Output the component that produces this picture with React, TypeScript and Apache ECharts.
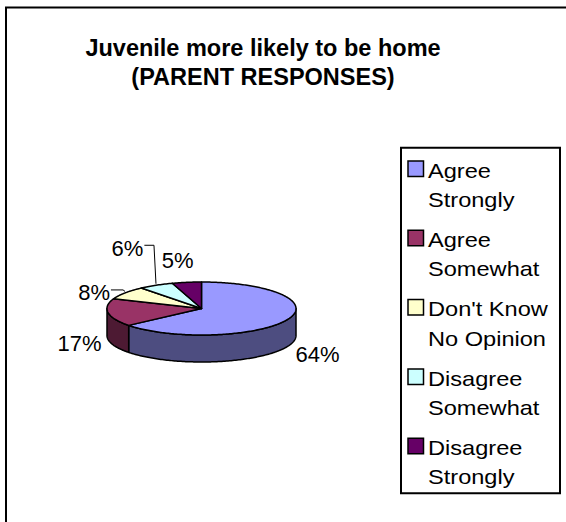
import React, { useEffect, useRef } from "react";
import * as echarts from "echarts";

// ---- data ----
const categories = [
  "Agree Strongly",
  "Agree Somewhat",
  "Don't Know No Opinion",
  "Disagree Somewhat",
  "Disagree Strongly",
];
const values = [64, 17, 8, 6, 5];
const topColors = ["#9999FF", "#993366", "#FFFFCC", "#CCFFFF", "#660066"];
const sideColors = ["#4D4D80", "#4D1A33", "#808066", "#668080", "#330033"];
const titleLines = ["Juvenile more likely to be home", "(PARENT RESPONSES)"];

// ---- layout (not data) ----
const labelOffsets = [
  [30.5, 35],
  [-28.7, 31],
  [-31, 0],
  [-28.5, -37],
  [-9, -22],
];
const labelLeaders = [false, false, true, true, false];

const FONT = '"Liberation Sans", Arial, Helvetica, sans-serif';
const CX = 201.5;
const CY = 308.5;
const RX = 94.5;
const RY = 26.5;
const DEPTH = 27;
const LABEL_SIZE = 22;

function pt(deg: number, dy = 0): number[] {
  const r = (deg * Math.PI) / 180;
  return [CX + RX * Math.sin(r), CY - RY * Math.cos(r) + dy];
}
function arc(a: number, b: number, dy: number): number[][] {
  const pts: number[][] = [];
  const n = Math.max(2, Math.ceil(Math.abs(b - a)));
  for (let i = 0; i <= n; i++) pts.push(pt(a + ((b - a) * i) / n, dy));
  return pts;
}
function wrap2(s: string): string {
  const w = s.split(" ");
  const h = Math.ceil(w.length / 2);
  return w.slice(0, h).join(" ") + "\n" + w.slice(h).join(" ");
}

export default function App() {
  const ref = useRef<HTMLDivElement>(null);
  useEffect(() => {
    if (!ref.current) return;
    const chart = echarts.init(ref.current, undefined, { renderer: "svg" });
    const total = values.reduce((a, b) => a + b, 0);
    const cumStart: number[] = [];
    let acc = 0;
    values.forEach((v) => {
      cumStart.push(acc);
      acc += v;
    });

    const legendEls: any[] = [];
    const L0 = 161;
    const PITCH = 69.3;
    categories.forEach((c, i) => {
      legendEls.push({
        type: "rect",
        shape: { x: 408, y: L0 + i * PITCH, width: 15.5, height: 15.5 },
        style: { fill: topColors[i], stroke: "#000", lineWidth: 1.5 },
      });
      legendEls.push({
        type: "text",
        x: 428,
        y: L0 - 5 + i * PITCH,
        scaleX: 1.18,
        style: {
          text: wrap2(c),
          fontSize: 20,
          fontFamily: FONT,
          fill: "#000",
          align: "left",
          verticalAlign: "top",
          lineHeight: 29.5,
        },
      });
    });

    chart.setOption({
      animation: false,
      backgroundColor: "#fff",
      title: {
        text: titleLines.join("\n"),
        left: 263,
        top: 33,
        textAlign: "center",
        padding: 0,
        textStyle: {
          fontSize: 23.5,
          fontWeight: "bold",
          fontFamily: FONT,
          color: "#000",
          lineHeight: 29,
        },
      },
      graphic: [
        {
          type: "rect",
          shape: { x: 6, y: 7.5, width: 800, height: 800 },
          style: { fill: "none", stroke: "#000", lineWidth: 2 },
        },
        {
          type: "rect",
          shape: { x: 401, y: 147.7, width: 159, height: 345.5 },
          style: { fill: "#fff", stroke: "#000", lineWidth: 2 },
        },
        ...legendEls,
      ],
      series: [
        {
          type: "custom",
          coordinateSystem: "none",
          data: values.map((v, i) => ({ name: categories[i], value: [v] })),
          renderItem: (params: any, api: any) => {
            const i = params.dataIndex;
            const v = api.value(0);
            const start = (cumStart[i] / total) * 360;
            const end = start + (v / total) * 360;
            const children: any[] = [];
            const s = Math.max(start, 90);
            const e = Math.min(end, 270);
            if (e > s) {
              children.push({
                type: "polygon",
                z2: 1,
                shape: { points: arc(s, e, 0).concat(arc(e, s, DEPTH)) },
                style: { fill: sideColors[i], stroke: "#000", lineWidth: 1.5, lineJoin: "round" },
              });
            }
            children.push({
              type: "polygon",
              z2: 10,
              shape: { points: [[CX, CY]].concat(arc(start, end, 0)) },
              style: { fill: topColors[i], stroke: "#000", lineWidth: 1.5, lineJoin: "round" },
            });
            const mid = (start + end) / 2;
            const edge = pt(mid, 0);
            const lx = edge[0] + labelOffsets[i][0];
            const ly = edge[1] + labelOffsets[i][1];
            const txt = Math.round((v / total) * 100) + "%";
            children.push({
              type: "text",
              z2: 20,
              x: lx,
              y: ly,
              style: {
                text: txt,
                fontSize: LABEL_SIZE,
                fontFamily: FONT,
                fill: "#000",
                align: "center",
                verticalAlign: "middle",
              },
            });
            if (labelLeaders[i]) {
              const digits = txt.length - 1;
              const halfW = ((digits * 0.556 + 0.889) * LABEL_SIZE) / 2;
              const yy = ly - 3;
              children.push({
                type: "polyline",
                z2: 20,
                shape: {
                  points: [
                    [lx + halfW + 1, yy],
                    [edge[0] - 2, yy],
                    [edge[0], edge[1] - 1.5],
                  ],
                },
                style: { fill: "none", stroke: "#000", lineWidth: 1 },
              });
            }
            return { type: "group", children };
          },
        },
      ],
    });
    return () => chart.dispose();
  }, []);
  return (
    <div
      ref={ref}
      style={{ position: "fixed", left: 0, top: 0, width: 566, height: 522 }}
    />
  );
}
